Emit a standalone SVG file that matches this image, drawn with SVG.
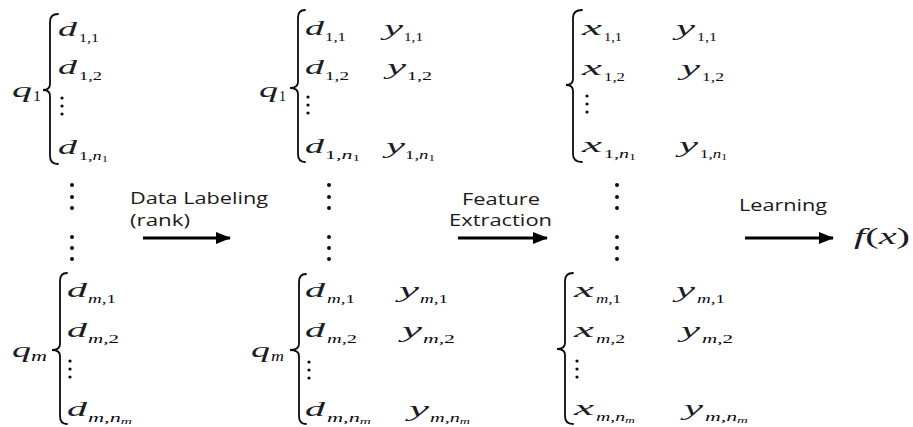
<svg xmlns="http://www.w3.org/2000/svg" width="913" height="427" viewBox="0 0 913 427">
<defs>
<style>
.v{font-family:"Liberation Serif","Times New Roman",serif;font-style:italic;font-size:21px;fill:#1c1c24}
.s{font-family:"Liberation Serif","Times New Roman",serif;font-size:13px;fill:#0a0a14}
.qs{font-size:15px}
.i{font-style:italic}
.ss{font-size:9px}
.br{fill:none;stroke:#0a0a14;stroke-width:1.8;stroke-linecap:round}
.dt{fill:#0a0a14}
.lb{font-family:"Open Sans","Noto Sans",sans-serif;font-size:16px;fill:#1a1a1a}
.ar{stroke:#000;stroke-width:3.2;fill:none}
.fx{font-size:24px}
</style>
<marker id="ah" markerUnits="userSpaceOnUse" markerWidth="16" markerHeight="12" refX="14" refY="6" orient="auto">
<path d="M0,0 L15,6 L0,12 Z" fill="#000"/>
</marker>
</defs>
<rect width="913" height="427" fill="#fff"/>

<g id="block1-q1">
<text class="v" x="12" y="97" textLength="20" lengthAdjust="spacingAndGlyphs">q</text>
<text class="s qs" x="33" y="101" textLength="8" lengthAdjust="spacingAndGlyphs">1</text>
<path class="br" d="M58,14 Q50,14 50,22 L50,84 Q50,90 43,90 Q50,90 50,96 L50,156 Q50,164 58,164"/>
<text class="v" x="58" y="36" textLength="19" lengthAdjust="spacingAndGlyphs">d</text>
<text class="s" x="79" y="42" textLength="20" lengthAdjust="spacingAndGlyphs">1,1</text>
<text class="v" x="58" y="74" textLength="19" lengthAdjust="spacingAndGlyphs">d</text>
<text class="s" x="79" y="80" textLength="23" lengthAdjust="spacingAndGlyphs">1,2</text>
<circle class="dt" cx="62" cy="98" r="1.6"/><circle class="dt" cx="62" cy="106" r="1.6"/><circle class="dt" cx="62" cy="114" r="1.6"/>
<text class="v" x="58" y="154" textLength="19" lengthAdjust="spacingAndGlyphs">d</text>
<text class="s" x="79" y="160" textLength="29" lengthAdjust="spacingAndGlyphs">1,<tspan class="i">n</tspan><tspan class="ss" dy="2">1</tspan></text>
</g>

<g id="block1-qm">
<text class="v" x="12" y="357" textLength="19" lengthAdjust="spacingAndGlyphs">q</text>
<text class="s qs i" x="31" y="361" textLength="16" lengthAdjust="spacingAndGlyphs">m</text>
<path class="br" d="M67,273 Q60,273 60,281 L60,344 Q60,350 52,350 Q60,350 60,356 L60,416 Q60,424 67,424"/>
<text class="v" x="67" y="297" textLength="20" lengthAdjust="spacingAndGlyphs">d</text>
<text class="s" x="88" y="303" textLength="28" lengthAdjust="spacingAndGlyphs"><tspan class="i">m</tspan>,1</text>
<text class="v" x="67" y="337" textLength="20" lengthAdjust="spacingAndGlyphs">d</text>
<text class="s" x="88" y="343" textLength="31" lengthAdjust="spacingAndGlyphs"><tspan class="i">m</tspan>,2</text>
<circle class="dt" cx="70" cy="361" r="1.6"/><circle class="dt" cx="70" cy="369" r="1.6"/><circle class="dt" cx="70" cy="377" r="1.6"/>
<text class="v" x="67" y="416" textLength="20" lengthAdjust="spacingAndGlyphs">d</text>
<text class="s" x="88" y="422" textLength="44" lengthAdjust="spacingAndGlyphs"><tspan class="i">m</tspan>,<tspan class="i">n</tspan><tspan class="ss i" dy="2">m</tspan></text>
</g>

<g id="block2-q1">
<text class="v" x="259" y="97" textLength="19" lengthAdjust="spacingAndGlyphs">q</text>
<text class="s qs" x="279" y="101" textLength="7" lengthAdjust="spacingAndGlyphs">1</text>
<path class="br" d="M305,10 Q298,10 298,18 L298,82 Q298,88 290,88 Q298,88 298,94 L298,154 Q298,162 305,162"/>
<text class="v" x="305" y="35" textLength="19" lengthAdjust="spacingAndGlyphs">d</text>
<text class="s" x="325" y="41" textLength="21" lengthAdjust="spacingAndGlyphs">1,1</text>
<text class="v" x="384" y="35" textLength="19" lengthAdjust="spacingAndGlyphs">y</text>
<text class="s" x="404" y="41" textLength="19" lengthAdjust="spacingAndGlyphs">1,1</text>
<text class="v" x="305" y="74" textLength="19" lengthAdjust="spacingAndGlyphs">d</text>
<text class="s" x="325" y="80" textLength="24" lengthAdjust="spacingAndGlyphs">1,2</text>
<text class="v" x="387" y="74" textLength="19" lengthAdjust="spacingAndGlyphs">y</text>
<text class="s" x="407" y="80" textLength="25" lengthAdjust="spacingAndGlyphs">1,2</text>
<circle class="dt" cx="308" cy="97" r="1.6"/><circle class="dt" cx="308" cy="105" r="1.6"/><circle class="dt" cx="308" cy="113" r="1.6"/>
<text class="v" x="305" y="153" textLength="19" lengthAdjust="spacingAndGlyphs">d</text>
<text class="s" x="325" y="159" textLength="35" lengthAdjust="spacingAndGlyphs">1,<tspan class="i">n</tspan><tspan class="ss" dy="2">1</tspan></text>
<text class="v" x="386" y="153" textLength="19" lengthAdjust="spacingAndGlyphs">y</text>
<text class="s" x="405" y="159" textLength="30" lengthAdjust="spacingAndGlyphs">1,<tspan class="i">n</tspan><tspan class="ss" dy="2">1</tspan></text>
</g>

<g id="block2-qm">
<text class="v" x="251" y="357" textLength="19" lengthAdjust="spacingAndGlyphs">q</text>
<text class="s qs i" x="271" y="361" textLength="13" lengthAdjust="spacingAndGlyphs">m</text>
<path class="br" d="M306,274 Q299,274 299,282 L299,344 Q299,350 290,350 Q299,350 299,356 L299,416 Q299,424 306,424"/>
<text class="v" x="305" y="297" textLength="20" lengthAdjust="spacingAndGlyphs">d</text>
<text class="s" x="327" y="303" textLength="28" lengthAdjust="spacingAndGlyphs"><tspan class="i">m</tspan>,1</text>
<text class="v" x="399" y="297" textLength="20" lengthAdjust="spacingAndGlyphs">y</text>
<text class="s" x="420" y="303" textLength="28" lengthAdjust="spacingAndGlyphs"><tspan class="i">m</tspan>,1</text>
<text class="v" x="305" y="337" textLength="20" lengthAdjust="spacingAndGlyphs">d</text>
<text class="s" x="327" y="343" textLength="30" lengthAdjust="spacingAndGlyphs"><tspan class="i">m</tspan>,2</text>
<text class="v" x="402" y="337" textLength="20" lengthAdjust="spacingAndGlyphs">y</text>
<text class="s" x="423" y="343" textLength="32" lengthAdjust="spacingAndGlyphs"><tspan class="i">m</tspan>,2</text>
<circle class="dt" cx="309" cy="362" r="1.6"/><circle class="dt" cx="309" cy="370" r="1.6"/><circle class="dt" cx="309" cy="378" r="1.6"/>
<text class="v" x="305" y="416" textLength="20" lengthAdjust="spacingAndGlyphs">d</text>
<text class="s" x="327" y="422" textLength="44" lengthAdjust="spacingAndGlyphs"><tspan class="i">m</tspan>,<tspan class="i">n</tspan><tspan class="ss i" dy="2">m</tspan></text>
<text class="v" x="409" y="416" textLength="20" lengthAdjust="spacingAndGlyphs">y</text>
<text class="s" x="430" y="422" textLength="40" lengthAdjust="spacingAndGlyphs"><tspan class="i">m</tspan>,<tspan class="i">n</tspan><tspan class="ss i" dy="2">m</tspan></text>
</g>

<g id="block3-q1">
<path class="br" d="M582,10 Q573,10 573,18 L573,79 Q573,85 566,85 Q573,85 573,91 L573,154 Q573,162 582,162"/>
<text class="v" x="582" y="35" textLength="20" lengthAdjust="spacingAndGlyphs">x</text>
<text class="s" x="604" y="41" textLength="18" lengthAdjust="spacingAndGlyphs">1,1</text>
<text class="v" x="676" y="35" textLength="19" lengthAdjust="spacingAndGlyphs">y</text>
<text class="s" x="697" y="41" textLength="20" lengthAdjust="spacingAndGlyphs">1,1</text>
<text class="v" x="582" y="75" textLength="20" lengthAdjust="spacingAndGlyphs">x</text>
<text class="s" x="604" y="81" textLength="21" lengthAdjust="spacingAndGlyphs">1,2</text>
<text class="v" x="681" y="75" textLength="19" lengthAdjust="spacingAndGlyphs">y</text>
<text class="s" x="702" y="81" textLength="22" lengthAdjust="spacingAndGlyphs">1,2</text>
<circle class="dt" cx="587" cy="96" r="1.6"/><circle class="dt" cx="587" cy="104" r="1.6"/><circle class="dt" cx="587" cy="112" r="1.6"/>
<text class="v" x="582" y="152" textLength="20" lengthAdjust="spacingAndGlyphs">x</text>
<text class="s" x="604" y="158" textLength="32" lengthAdjust="spacingAndGlyphs">1,<tspan class="i">n</tspan><tspan class="ss" dy="2">1</tspan></text>
<text class="v" x="679" y="152" textLength="19" lengthAdjust="spacingAndGlyphs">y</text>
<text class="s" x="700" y="158" textLength="27" lengthAdjust="spacingAndGlyphs">1,<tspan class="i">n</tspan><tspan class="ss" dy="2">1</tspan></text>
</g>

<g id="block3-qm">
<path class="br" d="M573,273 Q565,273 565,281 L565,343 Q565,349 557,349 Q565,349 565,355 L565,416 Q565,424 573,424"/>
<text class="v" x="574" y="297" textLength="20" lengthAdjust="spacingAndGlyphs">x</text>
<text class="s" x="596" y="303" textLength="25" lengthAdjust="spacingAndGlyphs"><tspan class="i">m</tspan>,1</text>
<text class="v" x="676" y="297" textLength="19" lengthAdjust="spacingAndGlyphs">y</text>
<text class="s" x="697" y="303" textLength="28" lengthAdjust="spacingAndGlyphs"><tspan class="i">m</tspan>,1</text>
<text class="v" x="574" y="337" textLength="20" lengthAdjust="spacingAndGlyphs">x</text>
<text class="s" x="596" y="343" textLength="29" lengthAdjust="spacingAndGlyphs"><tspan class="i">m</tspan>,2</text>
<text class="v" x="681" y="337" textLength="19" lengthAdjust="spacingAndGlyphs">y</text>
<text class="s" x="702" y="343" textLength="31" lengthAdjust="spacingAndGlyphs"><tspan class="i">m</tspan>,2</text>
<circle class="dt" cx="577" cy="361" r="1.6"/><circle class="dt" cx="577" cy="369" r="1.6"/><circle class="dt" cx="577" cy="377" r="1.6"/>
<text class="v" x="574" y="415" textLength="20" lengthAdjust="spacingAndGlyphs">x</text>
<text class="s" x="596" y="421" textLength="39" lengthAdjust="spacingAndGlyphs"><tspan class="i">m</tspan>,<tspan class="i">n</tspan><tspan class="ss i" dy="2">m</tspan></text>
<text class="v" x="684" y="415" textLength="19" lengthAdjust="spacingAndGlyphs">y</text>
<text class="s" x="705" y="421" textLength="43" lengthAdjust="spacingAndGlyphs"><tspan class="i">m</tspan>,<tspan class="i">n</tspan><tspan class="ss i" dy="2">m</tspan></text>
</g>

<g id="vdots">
<circle class="dt" cx="72" cy="185" r="2"/><circle class="dt" cx="72" cy="197" r="2"/><circle class="dt" cx="72" cy="208" r="2"/>
<circle class="dt" cx="72" cy="237" r="2"/><circle class="dt" cx="72" cy="248" r="2"/><circle class="dt" cx="72" cy="259" r="2"/>
<circle class="dt" cx="329" cy="185" r="2"/><circle class="dt" cx="329" cy="197" r="2"/><circle class="dt" cx="329" cy="208" r="2"/>
<circle class="dt" cx="329" cy="237" r="2"/><circle class="dt" cx="329" cy="248" r="2"/><circle class="dt" cx="329" cy="259" r="2"/>
<circle class="dt" cx="617" cy="185" r="2"/><circle class="dt" cx="617" cy="197" r="2"/><circle class="dt" cx="617" cy="208" r="2"/>
<circle class="dt" cx="617" cy="237" r="2"/><circle class="dt" cx="617" cy="248" r="2"/><circle class="dt" cx="617" cy="259" r="2"/>
</g>

<g id="fx">
<text class="v fx" x="854" y="244" textLength="56" lengthAdjust="spacingAndGlyphs">f<tspan font-style="normal">(</tspan>x<tspan font-style="normal">)</tspan></text>
</g>

<g id="connectors">
<line class="ar" x1="143" y1="238" x2="230" y2="238" marker-end="url(#ah)"/>
<line class="ar" x1="458" y1="238" x2="547" y2="238" marker-end="url(#ah)"/>
<line class="ar" x1="745" y1="238" x2="833" y2="238" marker-end="url(#ah)"/>
<text class="lb" x="130" y="204" textLength="138" lengthAdjust="spacingAndGlyphs">Data Labeling</text>
<text class="lb" x="130" y="226" textLength="60" lengthAdjust="spacingAndGlyphs">(rank)</text>
<text class="lb" x="462" y="205" textLength="78" lengthAdjust="spacingAndGlyphs">Feature</text>
<text class="lb" x="449" y="226" textLength="103" lengthAdjust="spacingAndGlyphs">Extraction</text>
<text class="lb" x="739" y="211" textLength="88" lengthAdjust="spacingAndGlyphs">Learning</text>
</g>
</svg>
